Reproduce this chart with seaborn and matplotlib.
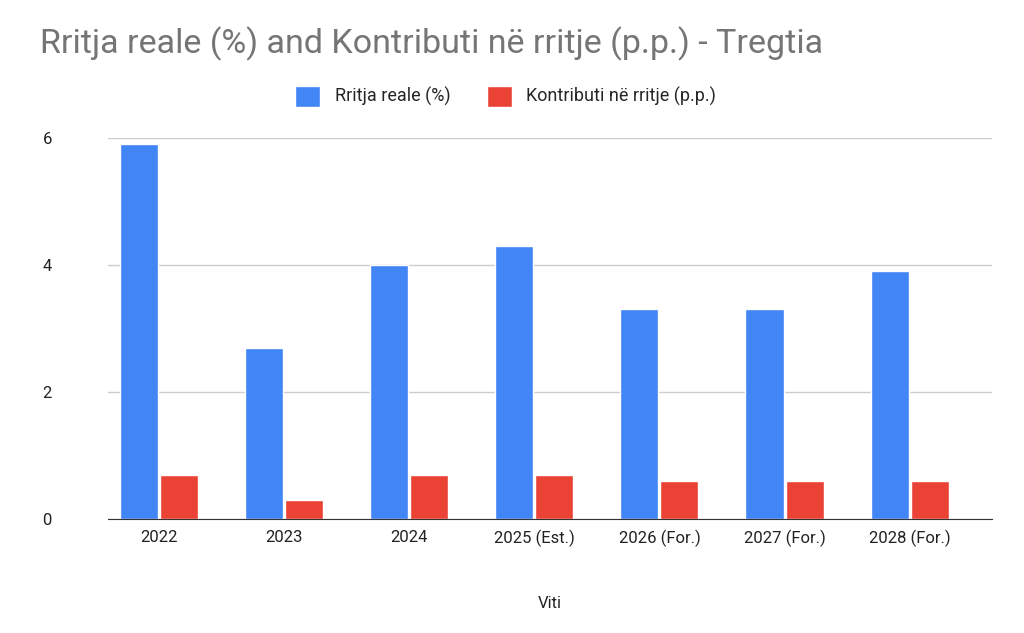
import matplotlib.pyplot as plt
import seaborn as sns
import pandas as pd

years = ["2022", "2023", "2024", "2025 (Est.)", "2026 (For.)", "2027 (For.)", "2028 (For.)"]
rritja = [5.9, 2.7, 4.0, 4.3, 3.3, 3.3, 3.9]
kontributi = [0.7, 0.3, 0.7, 0.7, 0.6, 0.6, 0.6]
series_names = ["Rritja reale (%)", "Kontributi në rritje (p.p.)"]

df = pd.DataFrame({
    "Viti": years * 2,
    "value": rritja + kontributi,
    "series": [series_names[0]] * len(years) + [series_names[1]] * len(years),
})

sns.set_style("white")
plt.rcParams['font.family'] = ['Roboto', 'DejaVu Sans']

fig = plt.figure(figsize=(10.24, 6.33), dpi=100)
ax = fig.add_axes([0.105, 0.18, 0.864, 0.602])
sns.barplot(data=df, x="Viti", y="value", hue="series", hue_order=series_names,
            palette=["#4285F4", "#EA4335"], saturation=1, width=0.64, gap=0.05, ax=ax)

ax.set_xlim(-0.41, 6.66)
ax.set_ylim(0, 6)
ax.set_yticks([0, 2, 4, 6])
ax.yaxis.grid(True, color="#cccccc", linewidth=1)
ax.set_axisbelow(True)
for s in ["top", "right", "left"]:
    ax.spines[s].set_visible(False)
ax.spines["bottom"].set_color("#333333")
ax.tick_params(axis="both", length=0, labelsize=12, colors="#222222")
ax.tick_params(axis="y", pad=40)
ax.tick_params(axis="x", pad=8)
ax.set_ylabel("")
ax.set_xlabel("Viti", fontsize=12, color="#222222", labelpad=35)

ax.legend(loc="lower center", bbox_to_anchor=(0.45, 1.04), ncol=2, frameon=False,
          fontsize=13, handlelength=1.4, handleheight=1.4, columnspacing=2)
fig.text(0.039, 0.915, "Rritja reale (%) and Kontributi në rritje (p.p.) - Tregtia",
         fontsize=24.5, color="#757575")

fig.savefig("out.png", dpi=100)
